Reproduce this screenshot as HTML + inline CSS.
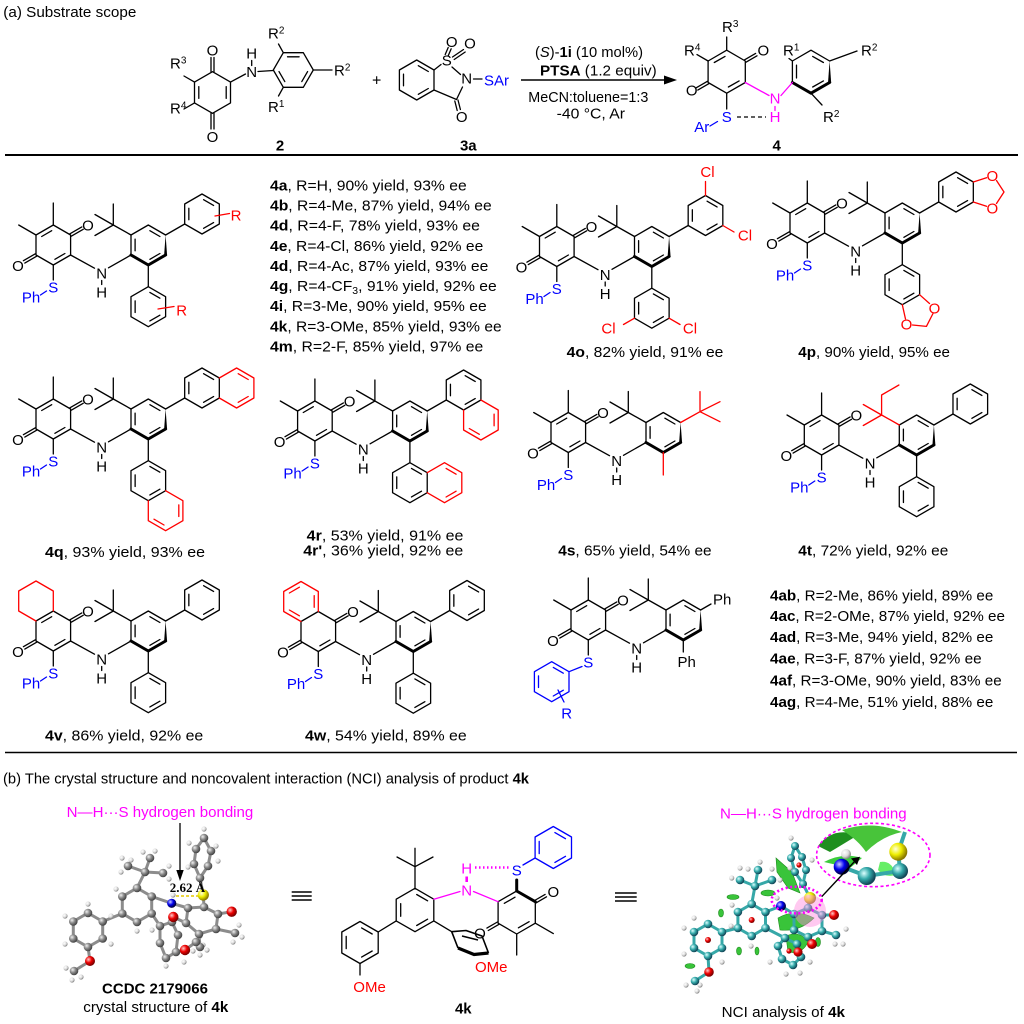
<!DOCTYPE html>
<html><head><meta charset="utf-8"><style>
html,body{margin:0;padding:0;background:#fff;}
svg{display:block}
.l{stroke:#000;stroke-width:1.3;fill:none;stroke-linecap:round;stroke-linejoin:round}
.bd{stroke:#000;stroke-width:3;fill:none;stroke-linecap:round;stroke-linejoin:round}
.r{stroke:#f00;stroke-width:1.3;fill:none;stroke-linecap:round;stroke-linejoin:round}
.bu{stroke:#00f;stroke-width:1.3;fill:none;stroke-linecap:round;stroke-linejoin:round}
.m{stroke:#f0f;stroke-width:1.3;fill:none;stroke-linecap:round}
text{font-family:"Liberation Sans",Arial,sans-serif;font-size:15px;fill:#000}
.a{text-anchor:middle}
.B{fill:#00f}.R{fill:#f00}.M{fill:#f0f}
.b{font-weight:bold}
.sup{font-size:10px}
.st{stroke:#8c8c8c;stroke-width:3;fill:none;stroke-linecap:round}
.stt{stroke:#36a8a8;stroke-width:3;fill:none;stroke-linecap:round}
</style></head><body>
<svg width="1024" height="1024" viewBox="0 0 1024 1024" xmlns="http://www.w3.org/2000/svg">
<defs>
<radialGradient id="gG" cx="35%" cy="35%" r="65%"><stop offset="0" stop-color="#f0f0f0"/><stop offset="0.5" stop-color="#8a8a8a"/><stop offset="1" stop-color="#444"/></radialGradient>
<radialGradient id="gR" cx="35%" cy="35%" r="65%"><stop offset="0" stop-color="#fcc"/><stop offset="0.5" stop-color="#e00"/><stop offset="1" stop-color="#700"/></radialGradient>
<radialGradient id="gB" cx="35%" cy="35%" r="65%"><stop offset="0" stop-color="#ccf"/><stop offset="0.5" stop-color="#00e"/><stop offset="1" stop-color="#003"/></radialGradient>
<radialGradient id="gY" cx="35%" cy="35%" r="65%"><stop offset="0" stop-color="#ffd"/><stop offset="0.5" stop-color="#ee0"/><stop offset="1" stop-color="#870"/></radialGradient>
<radialGradient id="gT" cx="35%" cy="35%" r="65%"><stop offset="0" stop-color="#dff"/><stop offset="0.5" stop-color="#3aa"/><stop offset="1" stop-color="#145"/></radialGradient>
<radialGradient id="gW" cx="35%" cy="35%" r="65%"><stop offset="0" stop-color="#fff"/><stop offset="0.6" stop-color="#ddd"/><stop offset="1" stop-color="#888"/></radialGradient>

<g id="ph" class="l"><polygon points="0,-20 17.32,-10 17.32,10 0,20 -17.32,10 -17.32,-10"/><path d="M1.58,-14.29L11.58,-8.51M11.58,8.51L1.58,14.29M-13.16,5.78L-13.16,-5.78"/></g>

<g id="core">
 <g class="l">
  <polygon points="53.3,225 70.6,235 70.6,255 53.3,265 36,255 36,235"/>
  <path d="M64.9,253.5L54.9,259.3M71.3,236.2L83.2,229.3M69.9,233.8L81.8,226.9M36.7,256.2L24.8,263.1M35.3,253.8L23.4,260.7M53.3,265L53.3,280M70.6,255L94.5,268.2M108.5,267.8L131,255M101.7,280.5L101.7,284.5M131,255L131,235L148.3,225L165.6,235M135.1,250.8L135.1,239.2M149.9,230.7L159.9,236.5M159.9,253.5L149.9,259.3"/>
 </g>
 <path class="bd" d="M165.6,255L148.3,265L131,255"/>
 <polygon points="165.6,235 164.1,255.5 167.1,255.5" fill="#000"/>
</g>
<g id="me2" class="l"><path d="M53.3,225L53.3,203M36,235L18.7,225M41.7,236.5L51.7,230.7"/></g>
<g id="tbu" class="l"><path d="M131,235L113.3,225L113.3,204M113.3,225L95,214.5M113.3,225L95,235.5"/></g>
<g id="phs"><path class="l" d="M165.6,235L184.7,224"/><use href="#ph" x="202" y="214"/></g>
<g id="phb"><path class="l" d="M148.3,265L148.3,286.7"/><use href="#ph" x="148.3" y="306.7"/></g>
</defs>

<!-- ===== (a) header ===== -->
<text x="3.3" y="17" textLength="133" lengthAdjust="spacingAndGlyphs">(a) Substrate scope</text>

<!-- compound 2 -->
<g class="l">
 <polygon points="212.5,71.7 230.5,82.1 230.5,102.9 212.5,113.3 194.5,102.9 194.5,82.1"/>
 <path d="M198.8,86.6L198.8,98.4M226.2,86.6L226.2,98.4M211,71.7L211,57.5M214,71.7L214,57.5M211,113.3L211,129M214,113.3L214,129M194.5,82.1L184,76M194.5,102.9L184,109M230.5,82.1L245.5,74M251.7,60.5L251.7,65.5M258,71.5L273.3,70.5"/>
 <polygon points="273.3,70 283.3,52.7 303.3,52.7 313.3,70 303.3,87.3 283.3,87.3"/>
 <path d="M287.5,56.8L299.1,56.8M307.6,71.6L301.8,81.6M284.8,81.6L279,71.6M283.3,52.7L278.5,44M313.3,70L332,70M283.3,87.3L278.5,96"/>
</g>
<text class="a" x="212.5" y="55.4">O</text>
<text class="a" x="212.5" y="142">O</text>
<text x="170" y="68.7">R<tspan class="sup" dy="-5">3</tspan></text>
<text x="170" y="113.7">R<tspan class="sup" dy="-5">4</tspan></text>
<text class="a" x="251.7" y="58.7">H</text>
<text class="a" x="251.7" y="77">N</text>
<text x="268" y="38.7">R<tspan class="sup" dy="-5">2</tspan></text>
<text x="334" y="75.4">R<tspan class="sup" dy="-5">2</tspan></text>
<text x="268" y="112">R<tspan class="sup" dy="-5">1</tspan></text>
<text class="a b" x="280" y="150.4">2</text>
<text class="a" x="376.7" y="85.5" style="font-size:16px">+</text>

<!-- compound 3a -->
<g class="l">
 <polygon points="416.7,60 434,70 434,90 416.7,100 399.4,90 399.4,70"/>
 <path d="M403.5,74.2L403.5,85.8M418.3,65.7L428.3,71.5M428.3,88.5L418.3,94.3M434,70L441,64.5M452,67L460.5,74.5M462.5,87L456.5,99.5M456.5,99.5L434,90M454.8,101L457.2,110.5M458,100L460.4,109.5M445.2,54.5L448.2,47.5M448.2,55.8L451.2,48.8M452.5,57L463.5,49.5M454.2,59.5L465.2,52M473.5,79L482,79"/>
</g>
<text class="a" x="446.7" y="65.4">S</text>
<text class="a" x="451.7" y="47">O</text>
<text class="a" x="470" y="48.7">O</text>
<text class="a" x="466.7" y="83.7">N</text>
<text class="a" x="461.7" y="122">O</text>
<text class="B" x="484" y="85.4">SAr</text>
<text class="a b" x="468.3" y="150.4">3a</text>

<!-- arrow and conditions -->
<line x1="521" y1="80" x2="668" y2="80" stroke="#000" stroke-width="1.5"/>
<polygon points="664,75.5 677,80 664,84.5" fill="#000"/>
<text x="535" y="57" textLength="108" lengthAdjust="spacingAndGlyphs">(<tspan font-style="italic">S</tspan>)-<tspan class="b">1i</tspan> (10 mol%)</text>
<text x="540" y="75.4" textLength="116.7" lengthAdjust="spacingAndGlyphs"><tspan class="b">PTSA</tspan> (1.2 equiv)</text>
<text x="528.3" y="102" textLength="120" lengthAdjust="spacingAndGlyphs">MeCN:toluene=1:3</text>
<text x="556.7" y="118.7" textLength="68.3" lengthAdjust="spacingAndGlyphs">-40 °C, Ar</text>

<!-- product 4 -->
<g class="l">
 <polygon points="726.7,50.2 745.3,61 745.3,82.5 726.7,93.2 708.1,82.5 708.1,61"/>
 <path d="M714.3,62.5L725,56.4M739.1,80.9L728.4,87M726.7,50.2L726.7,37M708.1,61L697,54.6M746,62.2L757,55.8M744.6,59.8L755.6,53.4M708.8,83.7L697.8,90.1M707.4,81.3L696.4,87.7M726.7,93.2L726.7,109M792.4,82.5L792.4,61L811,50.2L829.6,61M796.5,65.2L796.5,78M812.7,56.4L823.4,62.5M823.4,80.9L812.7,87M792.4,61L789,58.5M829.6,61L857,51M811,93.2L822,105"/>
</g>
<path class="bd" d="M829.6,82.5L811,93.2L792.4,82.5"/>
<polygon points="829.6,61 828,83 831.2,83" fill="#000"/>
<path d="M737,117L766,117" stroke="#000" stroke-width="1.3" stroke-dasharray="4,3"/>
<path class="bu" d="M710,126L717.5,121.5"/>
<path class="m" d="M745.3,82.5L769,95.5M781,95.5L792.4,82.5M775,106.5L775,110.5" stroke-width="1.6"/>
<text x="722" y="32.1">R<tspan class="sup" dy="-5">3</tspan></text>
<text x="684" y="55.4">R<tspan class="sup" dy="-5">4</tspan></text>
<text class="a" x="763.3" y="55.4">O</text>
<text class="a" x="691.7" y="95.4">O</text>
<text class="a B" x="726.7" y="122.1">S</text>
<text class="a B" x="701.7" y="132">Ar</text>
<text class="a M" x="775" y="103.7">N</text>
<text class="a M" x="775" y="122.1">H</text>
<text x="783" y="55.4">R<tspan class="sup" dy="-5">1</tspan></text>
<text x="861" y="55.4">R<tspan class="sup" dy="-5">2</tspan></text>
<text x="823" y="122">R<tspan class="sup" dy="-5">2</tspan></text>
<text class="a b" x="776.7" y="150.4">4</text>

<line x1="5" y1="155" x2="1018" y2="155" stroke="#000" stroke-width="2"/>

<!-- ===== 4a ===== -->
<g>
 <use href="#core"/><use href="#me2"/><use href="#tbu"/><use href="#phs"/><use href="#phb"/>
 <path class="bu" d="M40.5,295L46.5,291"/>
 <path class="r" d="M215,216L229.5,213.5M158,309L174,306.5"/>
 <text class="a" x="88" y="230.4">O</text><text class="a" x="18" y="271">O</text>
 <text class="a B" x="53.3" y="292.4">S</text><text class="a B" x="31" y="302.4">Ph</text>
 <text class="a" x="101.7" y="278.4">N</text><text class="a" x="101.7" y="297.4">H</text>
 <text class="a R" x="236" y="220.4">R</text><text class="a R" x="181.7" y="315.4">R</text>
</g>
<text x="270" y="190.4" textLength="196.7" lengthAdjust="spacingAndGlyphs"><tspan class="b">4a</tspan>, R=H, 90% yield, 93% ee</text>
<text x="270" y="210.5" textLength="221.7" lengthAdjust="spacingAndGlyphs"><tspan class="b">4b</tspan>, R=4-Me, 87% yield, 94% ee</text>
<text x="270" y="230.7" textLength="210" lengthAdjust="spacingAndGlyphs"><tspan class="b">4d</tspan>, R=4-F, 78% yield, 93% ee</text>
<text x="270" y="250.8" textLength="213.3" lengthAdjust="spacingAndGlyphs"><tspan class="b">4e</tspan>, R=4-Cl, 86% yield, 92% ee</text>
<text x="270" y="270.9" textLength="218.3" lengthAdjust="spacingAndGlyphs"><tspan class="b">4d</tspan>, R=4-Ac, 87% yield, 93% ee</text>
<text x="270" y="291.1" textLength="226.7" lengthAdjust="spacingAndGlyphs"><tspan class="b">4g</tspan>, R=4-CF<tspan class="sup" dy="3">3</tspan><tspan dy="-3">, 91% yield, 92% ee</tspan></text>
<text x="270" y="311.2" textLength="216.7" lengthAdjust="spacingAndGlyphs"><tspan class="b">4i</tspan>, R=3-Me, 90% yield, 95% ee</text>
<text x="270" y="331.3" textLength="231.7" lengthAdjust="spacingAndGlyphs"><tspan class="b">4k</tspan>, R=3-OMe, 85% yield, 93% ee</text>
<text x="270" y="351.4" textLength="213.3" lengthAdjust="spacingAndGlyphs"><tspan class="b">4m</tspan>, R=2-F, 85% yield, 97% ee</text>

<!-- ===== 4o ===== -->
<g transform="translate(503.5,1.5)">
 <use href="#core"/><use href="#me2"/><use href="#tbu"/><use href="#phs"/><use href="#phb"/>
 <path class="bu" d="M40.5,295L46.5,291"/>
 <path class="r" d="M202,194L202,180M219.3,224L230.5,230.5M131,316.7L120,323M165.6,316.7L176.5,323"/>
 <text class="a" x="88" y="230.4">O</text><text class="a" x="18" y="271">O</text>
 <text class="a B" x="53.3" y="292.4">S</text><text class="a B" x="31" y="302.4">Ph</text>
 <text class="a" x="101.7" y="278.4">N</text><text class="a" x="101.7" y="297.4">H</text>
 <text class="a R" x="204" y="175.5">Cl</text><text class="a R" x="241.5" y="238.9">Cl</text>
 <text class="a R" x="105" y="332.2">Cl</text><text class="a R" x="186.5" y="332.2">Cl</text>
</g>
<text x="566.7" y="357.1" textLength="156.7" lengthAdjust="spacingAndGlyphs"><tspan class="b">4o</tspan>, 82% yield, 91% ee</text>

<!-- ===== 4p ===== -->
<g transform="translate(754,-22)">
 <use href="#core"/><use href="#me2"/><use href="#tbu"/><use href="#phs"/><use href="#phb"/>
 <path class="bu" d="M40.5,295L46.5,291"/>
 <path class="r" d="M219.3,204L232.5,199.7M242.5,202.5L250,214L242.5,225.5M232.5,228.3L219.3,224M165.6,316.7L175.5,325.5M179,335.5L172.4,348.4L158.5,347M151.5,341L148.3,326.7"/>
 <text class="a" x="88" y="230.4">O</text><text class="a" x="18" y="271">O</text>
 <text class="a B" x="53.3" y="292.4">S</text><text class="a B" x="31" y="302.4">Ph</text>
 <text class="a" x="101.7" y="278.4">N</text><text class="a" x="101.7" y="297.4">H</text>
 <text class="a R" x="238.3" y="203.2">O</text><text class="a R" x="238.3" y="235.6">O</text>
 <text class="a R" x="180.5" y="335.5">O</text><text class="a R" x="152.5" y="351.7">O</text>
</g>
<text x="798.3" y="357.1" textLength="151.7" lengthAdjust="spacingAndGlyphs"><tspan class="b">4p</tspan>, 90% yield, 95% ee</text>

<!-- ===== 4q ===== -->
<g transform="translate(0,174)">
 <use href="#core"/><use href="#me2"/><use href="#tbu"/><use href="#phs"/><use href="#phb"/>
 <path class="bu" d="M40.5,295L46.5,291"/>
 <path class="r" d="M219.3,224L236.6,234L253.9,224L253.9,204L236.6,194L219.3,204M238.2,199.7L248.2,205.5M248.2,222.5L238.2,228.3"/>
 <path class="r" d="M165.6,316.7L182.9,326.7L182.9,346.7L165.6,356.7L148.3,346.7L148.3,326.7M178.8,330.9L178.8,342.5M164,351L154,345.2"/>
 <text class="a" x="88" y="230.4">O</text><text class="a" x="18" y="271">O</text>
 <text class="a B" x="53.3" y="292.4">S</text><text class="a B" x="31" y="302.4">Ph</text>
 <text class="a" x="101.7" y="278.4">N</text><text class="a" x="101.7" y="297.4">H</text>
</g>
<text x="45" y="557.1" textLength="160" lengthAdjust="spacingAndGlyphs"><tspan class="b">4q</tspan>, 93% yield, 93% ee</text>

<!-- ===== 4r ===== -->
<g transform="translate(261.6,176)">
 <use href="#core"/><use href="#me2"/><use href="#tbu"/><use href="#phs"/><use href="#phb"/>
 <path class="bu" d="M40.5,295L46.5,291"/>
 <path class="r" d="M219.3,224L236.6,234L236.6,254L219.3,264L202,254L202,234M232.5,238.2L232.5,249.8M217.7,258.3L207.7,252.5"/>
 <path class="r" d="M165.6,296.7L182.9,286.7L200.2,296.7L200.2,316.7L182.9,326.7L165.6,316.7M184.5,292.4L194.5,298.2M194.5,315.2L184.5,321"/>
 <text class="a" x="88" y="230.4">O</text><text class="a" x="18" y="271">O</text>
 <text class="a B" x="53.3" y="292.4">S</text><text class="a B" x="31" y="302.4">Ph</text>
 <text class="a" x="101.7" y="278.4">N</text><text class="a" x="101.7" y="297.4">H</text>
</g>
<text x="306.7" y="540.4" textLength="156.7" lengthAdjust="spacingAndGlyphs"><tspan class="b">4r</tspan>, 53% yield, 91% ee</text>
<text x="303.3" y="555.4" textLength="160" lengthAdjust="spacingAndGlyphs"><tspan class="b">4r'</tspan>, 36% yield, 92% ee</text>

<!-- ===== 4s ===== -->
<g transform="translate(515,187.5)">
 <use href="#core"/><use href="#me2"/><use href="#tbu"/>
 <path class="bu" d="M40.5,295L46.5,291"/>
 <path class="r" d="M165.6,235L185,224.2L185,204.2M185,224.2L205,214.2M185,224.2L205,234.2M148.3,265L148.3,287.5"/>
 <text class="a" x="88" y="230.4">O</text><text class="a" x="18" y="271">O</text>
 <text class="a B" x="53.3" y="292.4">S</text><text class="a B" x="31" y="302.4">Ph</text>
 <text class="a" x="101.7" y="278.4">N</text><text class="a" x="101.7" y="297.4">H</text>
</g>
<text x="558.3" y="555.4" textLength="153.3" lengthAdjust="spacingAndGlyphs"><tspan class="b">4s</tspan>, 65% yield, 54% ee</text>

<!-- ===== 4t ===== -->
<g transform="translate(768.3,190)">
 <use href="#core"/><use href="#me2"/><use href="#phs"/><use href="#phb"/>
 <path class="bu" d="M40.5,295L46.5,291"/>
 <path class="r" d="M131,235L113.3,225L95,214.5M113.3,225L95,235.5M113.3,225L113.3,205L130.6,195"/>
 <text class="a" x="88" y="230.4">O</text><text class="a" x="18" y="271">O</text>
 <text class="a B" x="53.3" y="292.4">S</text><text class="a B" x="31" y="302.4">Ph</text>
 <text class="a" x="101.7" y="278.4">N</text><text class="a" x="101.7" y="297.4">H</text>
</g>
<text x="798.3" y="555.4" textLength="150" lengthAdjust="spacingAndGlyphs"><tspan class="b">4t</tspan>, 72% yield, 92% ee</text>

<!-- ===== 4v ===== -->
<g transform="translate(0,386)">
 <use href="#core"/><use href="#tbu"/><use href="#phs"/><use href="#phb"/>
 <path class="bu" d="M40.5,295L46.5,291"/>
 <path class="l" d="M41.7,236.5L51.7,230.7"/>
 <path class="r" d="M53.3,225L53.3,205L36,195L18.7,205L18.7,225L36,235"/>
 <text class="a" x="88" y="230.4">O</text><text class="a" x="18" y="271">O</text>
 <text class="a B" x="53.3" y="292.4">S</text><text class="a B" x="31" y="302.4">Ph</text>
 <text class="a" x="101.7" y="278.4">N</text><text class="a" x="101.7" y="297.4">H</text>
</g>
<text x="45" y="740.4" textLength="158.3" lengthAdjust="spacingAndGlyphs"><tspan class="b">4v</tspan>, 86% yield, 92% ee</text>

<!-- ===== 4w ===== -->
<g transform="translate(265,386.5)">
 <use href="#core"/><use href="#tbu"/><use href="#phs"/><use href="#phb"/>
 <path class="bu" d="M40.5,295L46.5,291"/>
 <path class="r" d="M53.3,225L53.3,205L36,195L18.7,205L18.7,225L36,235M24.4,206.5L34.4,200.7M49.2,209.2L49.2,220.8M34.4,229.3L24.4,223.5"/>
 <text class="a" x="88" y="230.4">O</text><text class="a" x="18" y="271">O</text>
 <text class="a B" x="53.3" y="292.4">S</text><text class="a B" x="31" y="302.4">Ph</text>
 <text class="a" x="101.7" y="278.4">N</text><text class="a" x="101.7" y="297.4">H</text>
</g>
<text x="305" y="740.4" textLength="161.7" lengthAdjust="spacingAndGlyphs"><tspan class="b">4w</tspan>, 54% yield, 89% ee</text>

<!-- ===== 4ab-4ag ===== -->
<g transform="translate(535,375)">
 <use href="#core"/><use href="#me2"/><use href="#tbu"/>
 <path class="l" d="M165.6,235L176,229M148.3,265L148.3,277"/>
 <path class="bu" d="M47,291.5L34,296.7M16.7,286.7L34,296.7L34,316.7L16.7,326.7L-0.6,316.7L-0.6,296.7Z M18.3,292.4L28.3,298.2M28.3,315.2L18.3,321M3.5,312.5L3.5,300.9M23,315L29,327"/>
 <text class="a" x="88" y="230.4">O</text><text class="a" x="18" y="271">O</text>
 <text class="a B" x="53.3" y="292.4">S</text>
 <text class="a" x="101.7" y="278.4">N</text><text class="a" x="101.7" y="297.4">H</text>
 <text x="178" y="229.7">Ph</text>
 <text class="a" x="151.7" y="292">Ph</text>
 <text class="a B" x="31.7" y="343.7">R</text>
</g>
<text x="770" y="600.4" textLength="223.3" lengthAdjust="spacingAndGlyphs"><tspan class="b">4ab</tspan>, R=2-Me, 86% yield, 89% ee</text>
<text x="770" y="621" textLength="235" lengthAdjust="spacingAndGlyphs"><tspan class="b">4ac</tspan>, R=2-OMe, 87% yield, 92% ee</text>
<text x="770" y="642.1" textLength="223.3" lengthAdjust="spacingAndGlyphs"><tspan class="b">4ad</tspan>, R=3-Me, 94% yield, 82% ee</text>
<text x="770" y="663.7" textLength="211.7" lengthAdjust="spacingAndGlyphs"><tspan class="b">4ae</tspan>, R=3-F, 87% yield, 92% ee</text>
<text x="770" y="685.4" textLength="231.7" lengthAdjust="spacingAndGlyphs"><tspan class="b">4af</tspan>, R=3-OMe, 90% yield, 83% ee</text>
<text x="770" y="707.1" textLength="223.3" lengthAdjust="spacingAndGlyphs"><tspan class="b">4ag</tspan>, R=4-Me, 51% yield, 88% ee</text>

<line x1="5" y1="752.5" x2="1017" y2="752.5" stroke="#000" stroke-width="1.5"/>

<!-- ===== (b) ===== -->
<text x="3" y="783.7" textLength="526" lengthAdjust="spacingAndGlyphs">(b) The crystal structure and noncovalent interaction (NCI) analysis of product <tspan class="b">4k</tspan></text>

<text class="M" x="66.7" y="817" textLength="186.6" lengthAdjust="spacingAndGlyphs">N—H···S hydrogen bonding</text>
<line x1="180" y1="823" x2="180" y2="872" stroke="#000" stroke-width="1.3"/>
<polygon points="176.3,870 180,881 183.7,870" fill="#000"/>

<!-- crystal structure -->
<g>
 <path class="st" d="M88,913L102.7,921.5L102.7,938.5L88,947L73.3,938.5L73.3,921.5ZM88,947L90,961L74,971M102.7,921.5L122.3,913.5M137,888L151.7,896.5L151.7,913.5L137,922L122.3,913.5L122.3,896.5ZM137,888L145,872L128,866M145,872L150,858M145,872L163,873M151.7,896.5L171.7,903.3L188,908M188,908L204,907L218,914L216,929L199,934L186,923ZM204,907L203.3,895L200,878M218,914L231.7,911.7M186,923L173.3,917M216,929L235,933M199,934L200,947M200,878L208,866L211,851L204,838L196,849L194,864ZM151.7,913.5L160,926L172,922L178,935L176,952L166,958L160,943L160,926M176,952L185,950L196,942"/>
 <path d="M176,896L199,896" stroke="#e6c800" stroke-width="1.6" stroke-dasharray="3,2"/>
 <g fill="url(#gW)">
  <circle cx="88" cy="904" r="2.6"/><circle cx="111" cy="916" r="2.6"/><circle cx="111" cy="944" r="2.6"/><circle cx="65" cy="944" r="2.6"/><circle cx="65" cy="916" r="2.6"/><circle cx="66" cy="968" r="2.6"/><circle cx="72" cy="980" r="2.6"/><circle cx="81" cy="977" r="2.6"/><circle cx="116" cy="889" r="2.6"/><circle cx="137" cy="931" r="2.6"/><circle cx="122" cy="858" r="2.6"/><circle cx="131" cy="860" r="2.6"/><circle cx="155" cy="851" r="2.6"/><circle cx="143" cy="852" r="2.6"/><circle cx="169" cy="866" r="2.6"/><circle cx="169" cy="879" r="2.6"/><circle cx="121" cy="872" r="2.6"/><circle cx="173" cy="895" r="2.6"/><circle cx="239" cy="925" r="2.6"/><circle cx="242" cy="937" r="2.6"/><circle cx="233" cy="942" r="2.6"/><circle cx="200" cy="955" r="2.6"/><circle cx="207" cy="950" r="2.6"/><circle cx="193" cy="951" r="2.6"/><circle cx="189" cy="843" r="2.6"/><circle cx="216" cy="846" r="2.6"/><circle cx="218" cy="861" r="2.6"/><circle cx="204" cy="829" r="2.6"/><circle cx="188" cy="867" r="2.6"/><circle cx="152" cy="930" r="2.6"/><circle cx="184" cy="962" r="2.6"/><circle cx="166" cy="966" r="2.6"/><circle cx="200" cy="936" r="2.6"/><circle cx="203" cy="945" r="2.6"/>
 </g>
 <g fill="url(#gG)">
  <circle cx="88" cy="913" r="4.3"/><circle cx="102.7" cy="921.5" r="4.3"/><circle cx="102.7" cy="938.5" r="4.3"/><circle cx="88" cy="947" r="4.3"/><circle cx="73.3" cy="938.5" r="4.3"/><circle cx="73.3" cy="921.5" r="4.3"/><circle cx="74" cy="971" r="4.3"/>
  <circle cx="137" cy="888" r="4.3"/><circle cx="151.7" cy="896.5" r="4.3"/><circle cx="151.7" cy="913.5" r="4.3"/><circle cx="137" cy="922" r="4.3"/><circle cx="122.3" cy="913.5" r="4.3"/><circle cx="122.3" cy="896.5" r="4.3"/>
  <circle cx="145" cy="872" r="4.3"/><circle cx="128" cy="866" r="4.3"/><circle cx="150" cy="858" r="4.3"/><circle cx="163" cy="873" r="4.3"/>
  <circle cx="188" cy="908" r="4.3"/><circle cx="204" cy="907" r="4.3"/><circle cx="218" cy="914" r="4.3"/><circle cx="216" cy="929" r="4.3"/><circle cx="199" cy="934" r="4.3"/><circle cx="186" cy="923" r="4.3"/><circle cx="235" cy="933" r="4.3"/><circle cx="200" cy="947" r="4.3"/>
  <circle cx="200" cy="878" r="4.3"/><circle cx="208" cy="866" r="4.3"/><circle cx="211" cy="851" r="4.3"/><circle cx="204" cy="838" r="4.3"/><circle cx="196" cy="849" r="4.3"/><circle cx="194" cy="864" r="4.3"/>
  <circle cx="160" cy="926" r="4.3"/><circle cx="172" cy="922" r="4.3"/><circle cx="178" cy="935" r="4.3"/><circle cx="176" cy="952" r="4.3"/><circle cx="166" cy="958" r="4.3"/><circle cx="160" cy="943" r="4.3"/><circle cx="196" cy="942" r="4.3"/>
 </g>
 <g fill="url(#gR)"><circle cx="90" cy="961" r="5"/><circle cx="173.3" cy="917" r="5.2"/><circle cx="231.7" cy="911.7" r="5.2"/><circle cx="185" cy="950" r="5.2"/></g>
 <circle cx="171.7" cy="903.3" r="4.6" fill="url(#gB)"/>
 <circle cx="203.3" cy="895" r="5.6" fill="url(#gY)"/>
</g>
<text style="font-family:'Liberation Serif',serif;font-size:13px;font-weight:bold" x="187.5" y="892" text-anchor="middle">2.62 Å</text>
<text class="a b" x="155" y="993.7">CCDC 2179066</text>
<text x="83.3" y="1012" textLength="145" lengthAdjust="spacingAndGlyphs">crystal structure of <tspan class="b">4k</tspan></text>

<!-- equiv symbols -->
<path d="M291.7,892L311.7,892M291.7,896L311.7,896M291.7,900L311.7,900M615,893L636.7,893M615,897L636.7,897M615,901L636.7,901" stroke="#000" stroke-width="1.6"/>

<!-- 4k structure -->
<g class="l">
 <polygon points="415,888.3 433.8,899.2 433.8,920.9 415,931.7 396.2,920.9 396.2,899.2"/>
 <path d="M400.7,916.3L400.7,903.7M416.7,894.5L427.6,900.8M427.6,919.2L416.7,925.5M415,888.3L415,866.7L415,848.3M415,866.7L397,857M415,866.7L433,857M396.2,920.9L378.2,932M360,963.5L360,975"/>
 <polygon points="360,921.5 378.2,932 378.2,953 360,963.5 341.8,953 341.8,932"/>
 <path d="M346.2,948.6L346.2,936.4M361.6,927.9L372.2,934M372.2,951L361.6,957.1"/>
 <polygon points="516.7,891 535.3,901.7 535.3,923.2 516.7,934 498.1,923.2 498.1,901.7"/>
 <path d="M504.3,903.3L515,897.2M529.1,921.7L518.4,927.8M536,902.9L546.5,896.8M534.6,900.5L545.1,894.4M498.8,924.4L488.3,930.5M497.4,922L486.9,928.1M535.3,923.2L553.3,933.6M516.7,934L516.7,955M433.8,920.9L451.7,931.7"/>
</g>
<path class="bd" d="M516.7,880L516.7,891L535.3,901.7"/>
<path d="M451.7,931.7L466,930.5L482,936L488.5,953M458,948L451.7,931.7M462,936L478,940" stroke="#000" stroke-width="1.6" fill="none" stroke-linejoin="round"/>
<path d="M458,948L474,954.5L488.5,953" stroke="#000" stroke-width="3.2" fill="none" stroke-linejoin="round"/>
<path class="bu" d="M523,865L535.1,858M553.3,826.5L571.5,837L571.5,858L553.3,868.5L535.1,858L535.1,837ZM554.9,832.6L565.5,838.7M565.5,856.3L554.9,862.4M539.2,853.6L539.2,841.4"/>
<path class="m" d="M433.8,899.2L460,891.5M473.5,891.5L498.1,901.7"/>
<path d="M466.7,876.5L466.7,882" stroke="#f0f" stroke-width="2.6"/>
<path d="M475,867.5L511,867.5" stroke="#f0f" stroke-width="2.6" stroke-dasharray="1.5,2.5"/>
<text class="a M" x="466.7" y="873.7">H</text>
<text class="a M" x="466.7" y="895.4">N</text>
<text class="a B" x="516.7" y="875.4">S</text>
<text class="a" x="553.3" y="897.1">O</text>
<text class="a" x="480" y="938.7">O</text>
<text class="R" x="353.3" y="992">OMe</text>
<text class="R" x="475" y="972">OMe</text>
<text class="a b" x="463.3" y="1013.7">4k</text>

<!-- NCI analysis -->
<text class="M" x="720" y="818.7" textLength="186.7" lengthAdjust="spacingAndGlyphs">N—H···S hydrogen bonding</text>
<g>
 <g fill="#39c43a" stroke="#1f8a1f" stroke-width="0.6">
  <path d="M776,858L792,872L800,893L788,888L777,872Z"/>
  <path d="M778,918Q795,908 814,918Q800,932 780,930Z"/>
  <path d="M786,936Q800,930 808,942Q802,955 788,952Z"/>
  <ellipse cx="733" cy="897" rx="6" ry="2.5"/><ellipse cx="721" cy="913" rx="2.5" ry="4"/><ellipse cx="739" cy="951" rx="2.5" ry="4"/><ellipse cx="690" cy="966" rx="5" ry="2.5"/><ellipse cx="818" cy="942" rx="2.5" ry="4.5"/><ellipse cx="768" cy="893" rx="7" ry="3"/><ellipse cx="757" cy="951" rx="2" ry="4"/>
 </g>
 <path class="stt" d="M708,924L722,932L722,948L708,956L694,948L694,932ZM708,956L709,972L695,981M722,932L737.9,928M751.7,904L765.5,912L765.5,928L751.7,936L737.9,928L737.9,912ZM751.7,904L755,886L740,880M755,886L758,870M755,886L772,880M765.5,912L781,906L794,914M794,914L808,908L822,915L822,931L808,937L794,930ZM808,908L810,898L803,884L806,870L802,857L795,846L791,858L795,872L803,884M822,915L834,915M822,931L836,935M808,937L812,944M765.5,928L785,938L797,944L801,957L793,965L782,959L778,946L785,938M801,957L798,952"/>
 <g fill="url(#gW)">
  <circle cx="694" cy="918" r="2.6"/><circle cx="731" cy="926" r="2.6"/><circle cx="684" cy="928" r="2.6"/><circle cx="684" cy="954" r="2.6"/><circle cx="722" cy="962" r="2.6"/><circle cx="686" cy="985" r="2.6"/><circle cx="697" cy="991" r="2.6"/><circle cx="700" cy="985" r="2.6"/><circle cx="751" cy="946" r="2.6"/><circle cx="732" cy="905" r="2.6"/><circle cx="740" cy="868" r="2.6"/><circle cx="731.7" cy="878" r="2.6"/><circle cx="760" cy="862" r="2.6"/><circle cx="772" cy="869" r="2.6"/><circle cx="780" cy="880" r="2.6"/><circle cx="748" cy="869" r="2.6"/><circle cx="777" cy="898" r="2.6"/><circle cx="791" cy="838" r="2.6"/><circle cx="790" cy="868" r="2.6"/><circle cx="812" cy="860" r="2.6"/><circle cx="846" cy="929" r="2.6"/><circle cx="843" cy="944" r="2.6"/><circle cx="835" cy="944" r="2.6"/><circle cx="786" cy="974" r="2.6"/><circle cx="800" cy="973" r="2.6"/><circle cx="770" cy="962" r="2.6"/><circle cx="810" cy="962" r="2.6"/>
 </g>
 <g fill="url(#gT)">
  <circle cx="708" cy="924" r="4.3"/><circle cx="722" cy="932" r="4.3"/><circle cx="722" cy="948" r="4.3"/><circle cx="708" cy="956" r="4.3"/><circle cx="694" cy="948" r="4.3"/><circle cx="694" cy="932" r="4.3"/><circle cx="695" cy="981" r="4.3"/>
  <circle cx="751.7" cy="904" r="4.3"/><circle cx="765.5" cy="912" r="4.3"/><circle cx="765.5" cy="928" r="4.3"/><circle cx="751.7" cy="936" r="4.3"/><circle cx="737.9" cy="928" r="4.3"/><circle cx="737.9" cy="912" r="4.3"/>
  <circle cx="755" cy="886" r="4.3"/><circle cx="740" cy="880" r="4.3"/><circle cx="758" cy="870" r="4.3"/><circle cx="772" cy="880" r="4.3"/>
  <circle cx="794" cy="914" r="4.3"/><circle cx="808" cy="908" r="4.3"/><circle cx="822" cy="915" r="4.3"/><circle cx="822" cy="931" r="4.3"/><circle cx="808" cy="937" r="4.3"/><circle cx="794" cy="930" r="4.3"/><circle cx="836" cy="935" r="4.3"/>
  <circle cx="803" cy="884" r="4"/><circle cx="806" cy="870" r="4"/><circle cx="802" cy="857" r="4"/><circle cx="795" cy="846" r="4"/><circle cx="791" cy="858" r="4"/><circle cx="795" cy="872" r="4"/>
  <circle cx="785" cy="938" r="4.3"/><circle cx="797" cy="944" r="4.3"/><circle cx="801" cy="957" r="4.3"/><circle cx="793" cy="965" r="4.3"/><circle cx="782" cy="959" r="4.3"/><circle cx="778" cy="946" r="4.3"/>
 </g>
 <g fill="url(#gR)"><circle cx="709" cy="972" r="4.8"/><circle cx="834" cy="915" r="5"/><circle cx="812" cy="944" r="5"/><circle cx="798" cy="952" r="4.6"/><circle cx="708" cy="940" r="3"/><circle cx="751.7" cy="920" r="3"/><circle cx="799" cy="865" r="2.6"/><circle cx="789" cy="951" r="2.6"/></g>
 <circle cx="781" cy="906" r="5" fill="url(#gB)"/>
 <circle cx="810" cy="898" r="6" fill="url(#gY)"/>
 <circle cx="810" cy="911" r="16" fill="#ff88dd" fill-opacity="0.45"/>
 <ellipse cx="796.7" cy="900" rx="25" ry="13.3" fill="none" stroke="#f0f" stroke-width="2.6" stroke-dasharray="2,2.5"/>
 <!-- inset -->
 <g>
  <path d="M818,846Q833,826 858,835Q845,843 830,852Z" fill="#1f8f1f"/>
  <path d="M842,830Q872,820 902,832Q882,836 866,852Q858,840 842,830Z" fill="#48c43a"/>
  <path d="M824,862Q843,852 862,858L850,868Z" fill="#3ccc3c"/>
  <path d="M880,862Q892,860 896,875Q884,878 878,870Z" fill="#6e6"/>
  <path d="M841.7,866.7L866.7,876L900,871L898.3,851.7L905,832" stroke="#36a8a8" stroke-width="4" fill="none"/>
  <circle cx="866.7" cy="876" r="9" fill="url(#gT)"/><circle cx="900" cy="871" r="8" fill="url(#gT)"/>
  <circle cx="841.7" cy="866.7" r="8" fill="url(#gB)"/><circle cx="846" cy="854" r="5" fill="url(#gW)"/>
  <circle cx="898.3" cy="851.7" r="9" fill="url(#gY)"/>
  <ellipse cx="873.3" cy="855" rx="56.7" ry="31.7" fill="none" stroke="#f0f" stroke-width="1.6" stroke-dasharray="3,2.5"/>
 </g>
 <line x1="821.7" y1="896.7" x2="855" y2="861" stroke="#000" stroke-width="1.4"/>
 <polygon points="851,858.5 860,856.7 857,865" fill="#000"/>
</g>
<text x="721.7" y="1017" textLength="123.3" lengthAdjust="spacingAndGlyphs">NCI analysis of <tspan class="b">4k</tspan></text>
</svg>
</body></html>
